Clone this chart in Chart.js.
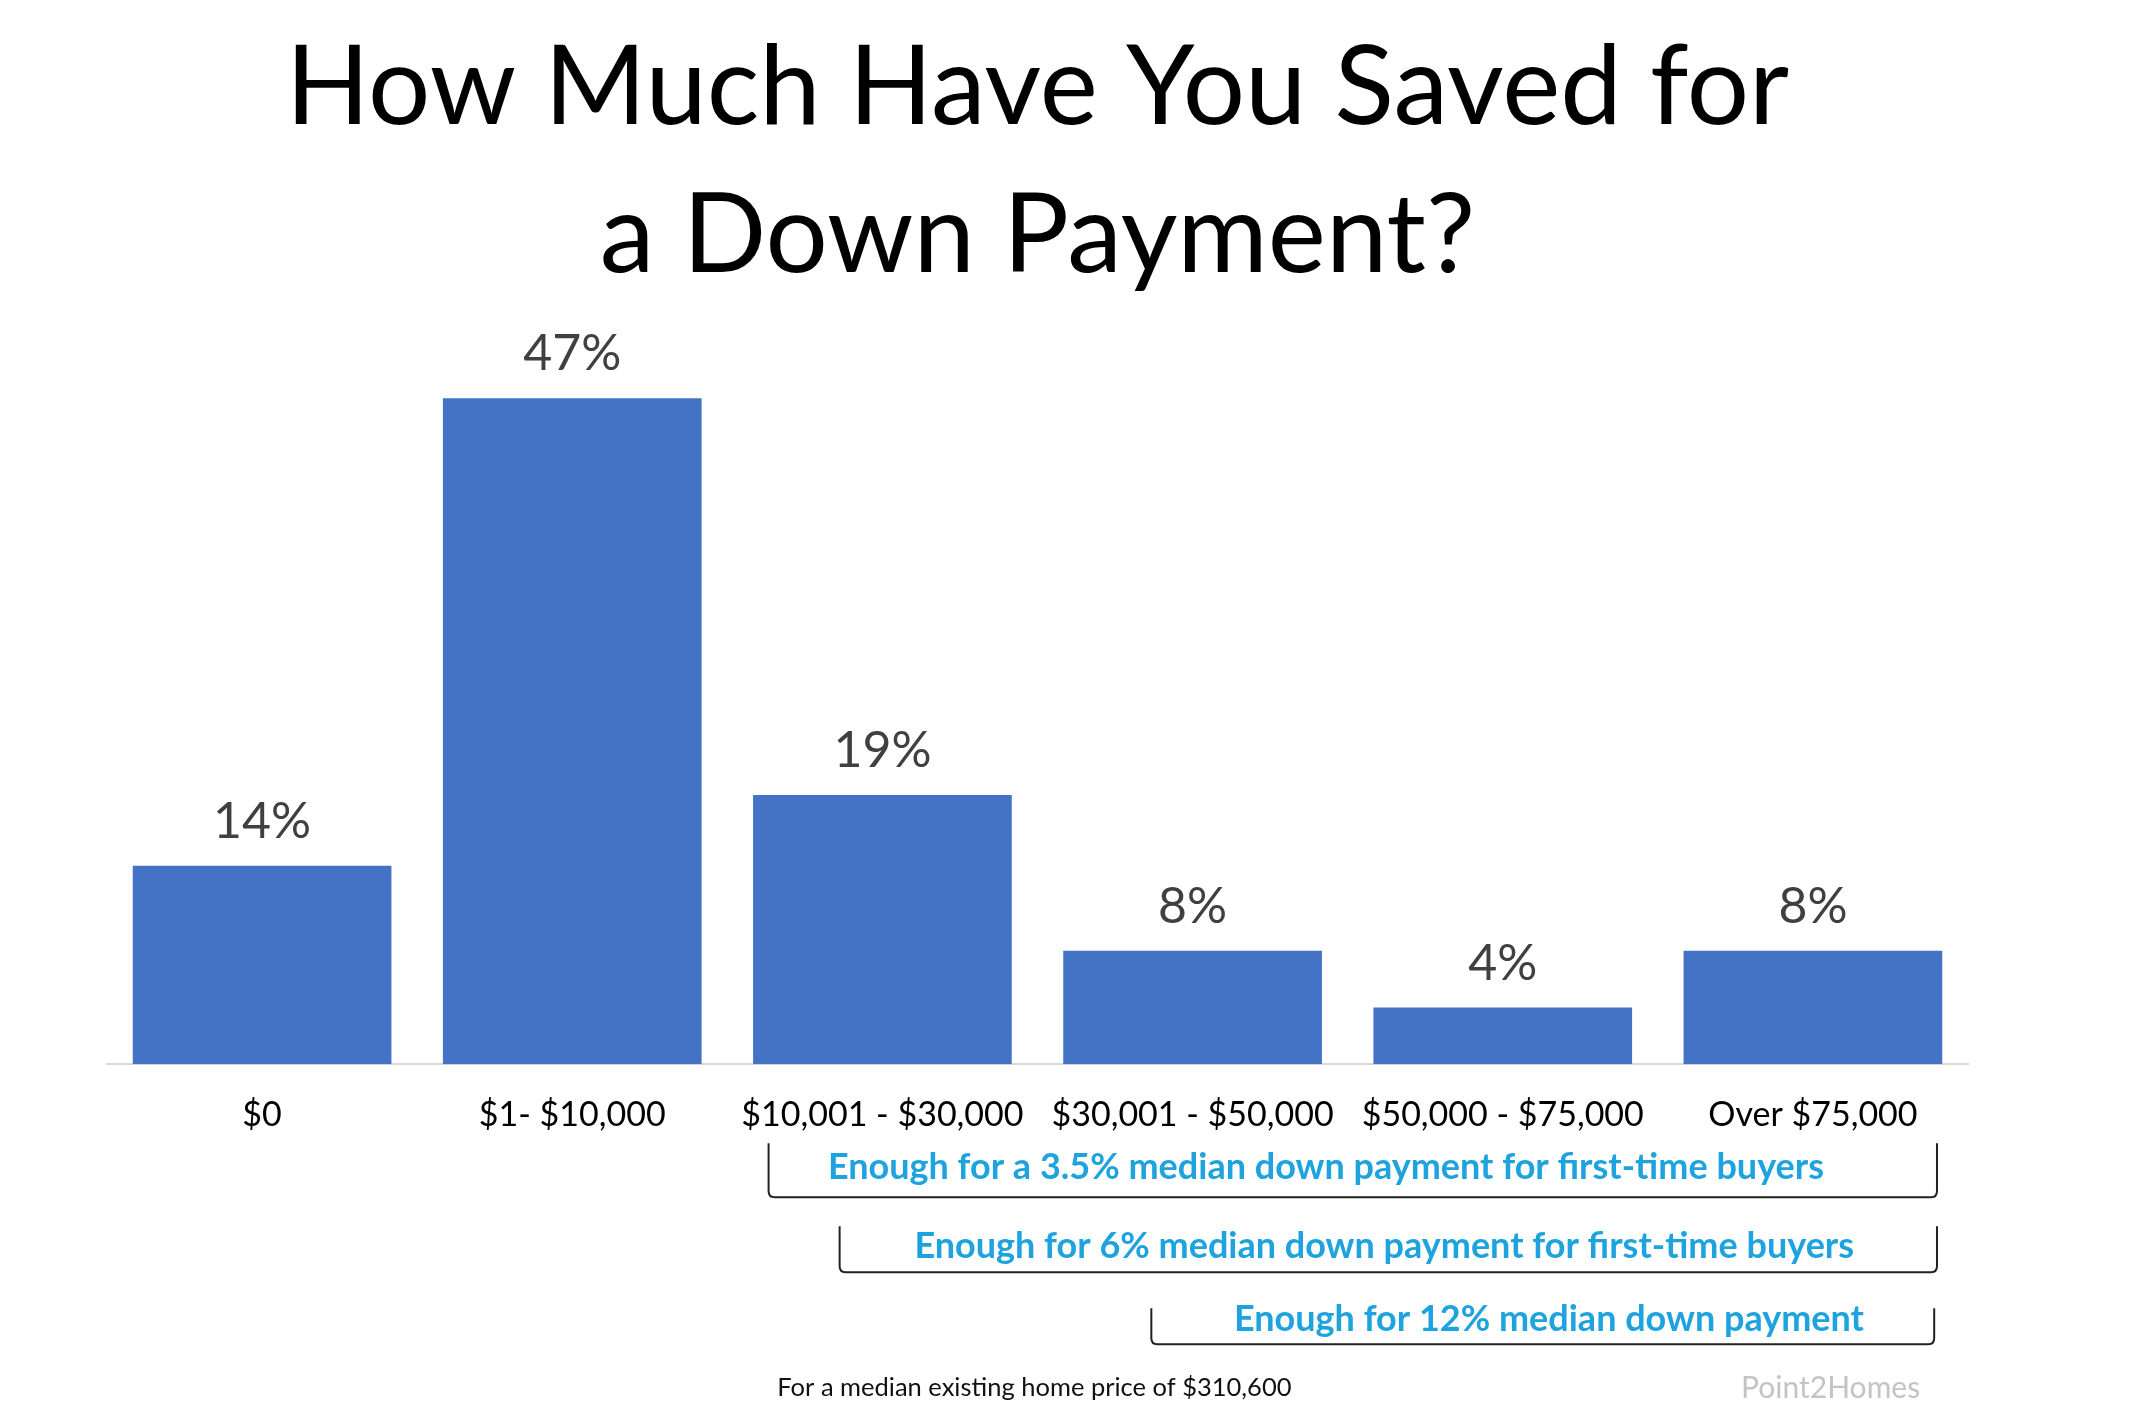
<!DOCTYPE html>
<html>
<head>
<meta charset="utf-8">
<script src="https://cdn.jsdelivr.net/npm/chart.js@4.4.1/dist/chart.umd.min.js"></script>
<style>
  html, body { margin: 0; padding: 0; background: #fff; }
  #wrap { width: 2136px; height: 1418px; position: relative; }
</style>
</head>
<body>
<div id="wrap"><canvas id="barChart"></canvas></div>
<script>
// data
var categories = ['$0', '$1- $10,000', '$10,001 - $30,000', '$30,001 - $50,000', '$50,000 - $75,000', 'Over $75,000'];
var shares = [14, 47, 19, 8, 4, 8];
var titleLines = ['How Much Have You Saved for', 'a Down Payment?'];
var bracketTexts = [
  'Enough for a 3.5% median down payment for first-time buyers',
  'Enough for 6% median down payment for first-time buyers',
  'Enough for 12% median down payment'
];
var footnote = 'For a median existing home price of $310,600';
var sourceText = 'Point2Homes';

var FONT = 'Lato, "Open Sans", sans-serif';

// brackets: positions in category units from the left of the plot, offsets below the axis
var brackets = [
  {from: 2.133, to: 5.90, mid: 3.93, top: 79, bottom: 133, text: 103},
  {from: 2.362, to: 5.90, mid: 4.118, top: 162, bottom: 208, text: 182},
  {from: 3.367, to: 5.891, mid: 4.649, top: 244, bottom: 280, text: 255}
];

var valueLabels = {
  id: 'valueLabels',
  afterDatasetsDraw: function(chart) {
    var ctx = chart.ctx;
    var meta = chart.getDatasetMeta(0);
    ctx.save();
    ctx.font = '50px ' + FONT;
    ctx.fillStyle = '#404040';
    ctx.textAlign = 'center';
    ctx.textBaseline = 'middle';
    meta.data.forEach(function(bar, i) {
      ctx.fillText(shares[i] + '%', bar.x, bar.y - 44);
    });
    ctx.restore();
  }
};

var notes = {
  id: 'notes',
  afterDraw: function(chart) {
    var ctx = chart.ctx;
    var area = chart.chartArea;
    var cw = (area.right - area.left) / categories.length;
    var base = area.bottom;
    ctx.save();
    brackets.forEach(function(b, i) {
      var x1 = area.left + b.from * cw;
      var x2 = area.left + b.to * cw;
      var r = 6;
      ctx.strokeStyle = '#222';
      ctx.lineWidth = 2;
      ctx.beginPath();
      ctx.moveTo(x1, base + b.top);
      ctx.lineTo(x1, base + b.bottom - r);
      ctx.quadraticCurveTo(x1, base + b.bottom, x1 + r, base + b.bottom);
      ctx.lineTo(x2 - r, base + b.bottom);
      ctx.quadraticCurveTo(x2, base + b.bottom, x2, base + b.bottom - r);
      ctx.lineTo(x2, base + b.top);
      ctx.stroke();

      ctx.font = 'bold 36px ' + FONT;
      ctx.fillStyle = '#1ea3de';
      ctx.textAlign = 'center';
      ctx.textBaseline = 'middle';
      ctx.fillText(bracketTexts[i], area.left + b.mid * cw, base + b.text);
    });

    ctx.font = '25.5px ' + FONT;
    ctx.fillStyle = '#111';
    ctx.textAlign = 'center';
    ctx.textBaseline = 'middle';
    ctx.fillText(footnote, area.left + 2.99 * cw, base + 324);

    ctx.font = '30px ' + FONT;
    ctx.fillStyle = '#c4c4c4';
    ctx.fillText(sourceText, area.left + 5.557 * cw, base + 324);
    ctx.restore();
  }
};

var ctx = document.getElementById('barChart');
var myBarChart = new Chart(ctx, {
  type: 'bar',
  data: {
    labels: categories,
    datasets: [{
      data: shares,
      backgroundColor: '#4472C4',
      borderWidth: 0,
      categoryPercentage: 1,
      barPercentage: 0.834
    }]
  },
  options: {
    responsive: true,
    maintainAspectRatio: false,
    animation: false,
    devicePixelRatio: 1,
    layout: {
      padding: {left: 107, right: 168, top: 0, bottom: 253}
    },
    plugins: {
      legend: {display: false},
      tooltip: {enabled: false},
      title: {
        display: true,
        text: titleLines,
        color: '#000',
        font: {family: FONT, size: 110, weight: 'normal', lineHeight: 1.34},
        padding: {top: 15, bottom: 46}
      }
    },
    scales: {
      x: {
        grid: {display: false, drawTicks: false},
        border: {display: true, color: '#d9d9d9', width: 2},
        ticks: {
          color: '#000',
          font: {family: FONT, size: 34},
          padding: 30,
          maxRotation: 0,
          autoSkip: false
        }
      },
      y: {
        display: false,
        min: 0,
        max: 50
      }
    }
  },
  plugins: [valueLabels, notes]
});
</script>
</body>
</html>
